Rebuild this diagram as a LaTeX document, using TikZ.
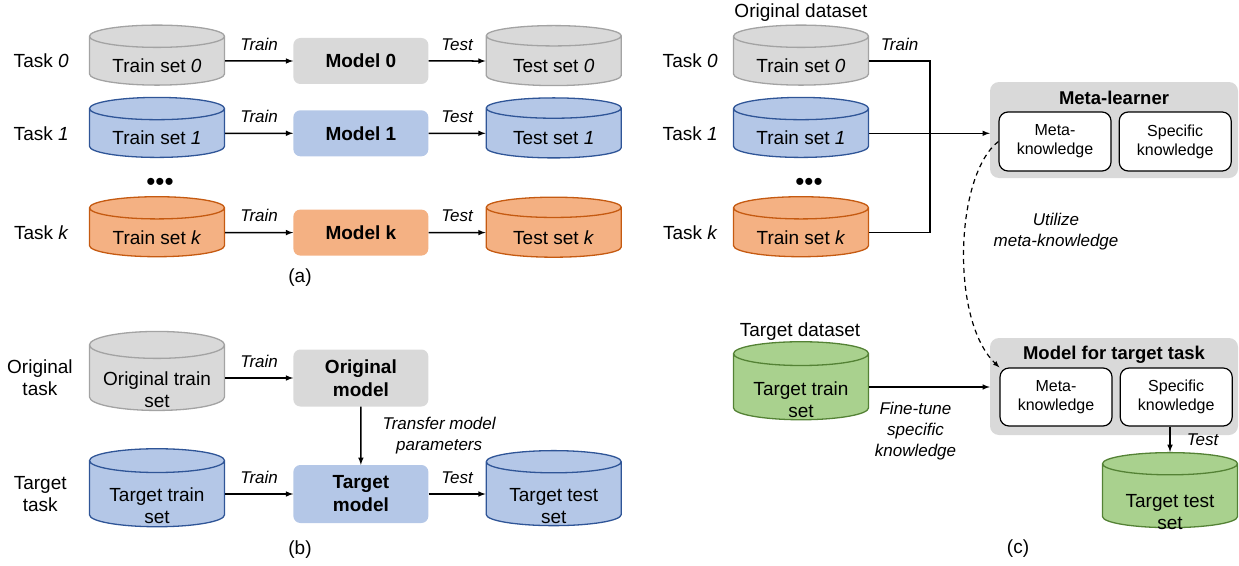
\documentclass[tikz,border=0pt]{standalone}
\usepackage{fontspec}
\setmainfont{Liberation Sans}
\usetikzlibrary{shapes.geometric, arrows, positioning}

\definecolor{graybg}{HTML}{D9D9D9}
\definecolor{grayline}{HTML}{A3A3A3}
\definecolor{bluebg}{HTML}{B4C7E7}
\definecolor{blueline}{HTML}{2F5597}
\definecolor{orangebg}{HTML}{F4B183}
\definecolor{orangeline}{HTML}{C55A11}
\definecolor{greenbg}{HTML}{A9D18E}
\definecolor{greenline}{HTML}{548235}

% two lines of text set lower in a cylinder
\newcommand{\dbtwolines}[3]{\raisebox{-#1}[0pt][0pt]{\begin{tabular}{@{}c@{}}#2\\#3\end{tabular}}}

\begin{document}
\begin{tikzpicture}[x=1pt, y=-1pt, node distance=68pt,
    txt/.style={font=\fontsize{19}{22}\selectfont, align=center, inner sep=0pt},
    lbl/.style={font=\fontsize{17}{21}\selectfont\itshape, align=center, inner sep=0pt},
    db/.style={txt, cylinder, shape border rotate=90, aspect=0.25, draw, line width=1.3pt, minimum width=135pt, minimum height=60pt, text height=23.5pt},
    dbtwo/.style={text height=0pt, text depth=0pt},
    dbgray/.style={db, fill=graybg, draw=grayline},
    dbblue/.style={db, fill=bluebg, draw=blueline},
    dborange/.style={db, fill=orangebg, draw=orangeline},
    dbgreen/.style={db, fill=greenbg, draw=greenline},
    model/.style={txt, font=\fontsize{19}{23}\selectfont\bfseries, rounded corners=7pt, minimum width=135pt, minimum height=46pt},
    grp/.style={fill=graybg, rounded corners=9pt, minimum width=248pt, minimum height=96pt},
    grptitle/.style={txt, font=\fontsize{18.5}{22}\selectfont\bfseries},
    know/.style={draw, fill=white, line width=1.2pt, rounded corners=9pt, minimum width=112pt, minimum height=59pt, align=center, inner sep=0pt, font=\fontsize{16}{19}\selectfont},
    dots/.style={font=\fontsize{26}{26}\selectfont, inner sep=0pt},
    arr/.style={-latex, line width=1.5pt}]
    \useasboundingbox (0,0) rectangle (1239,565);

    % (a) one model per task
    \node (ts0) [dbgray] at (157,61) {Train set \textit{0}};
    \node (m0) [model, fill=graybg, right=of ts0] {Model 0};
    \node (te0) [dbgray, right=57pt of m0] {Test set \textit{0}};
    \node (ts1) [dbblue, below=11pt of ts0] {Train set \textit{1}};
    \node (m1) [model, fill=bluebg, right=of ts1] {Model 1};
    \node (te1) [dbblue, right=57pt of m1] {Test set \textit{1}};
    \node (tsk) [dborange, below=38pt of ts1] {Train set \textit{k}};
    \node (mk) [model, fill=orangebg, right=of tsk] {Model k};
    \node (tek) [dborange, right=57pt of mk] {Test set \textit{k}};
    \node (la0) [txt, left=20pt of ts0] {Task \textit{0}};
    \node (la1) [txt, left=20pt of ts1] {Task \textit{1}};
    \node (lak) [txt, left=20pt of tsk] {Task \textit{k}};
    \node (dta) [dots] at (160,184) {•••};
    \node (capa) [txt] at (300,278) {(a)};

    \draw[arr] (ts0) -- node[lbl, above=10pt] {Train} (m0);
    \draw[arr] (m0) -- node[lbl, above=10pt] {Test} (te0);
    \draw[arr] (ts1) -- node[lbl, above=10pt] {Train} (m1);
    \draw[arr] (m1) -- node[lbl, above=10pt] {Test} (te1);
    \draw[arr] (tsk) -- node[lbl, above=10pt] {Train} (mk);
    \draw[arr] (mk) -- node[lbl, above=10pt] {Test} (tek);

    % (b) transfer learning
    \node (ots) [dbgray, dbtwo, minimum height=79pt] at (157,378) {\dbtwolines{18pt}{Original train}{set}};
    \node (om) [model, fill=graybg, minimum height=57pt, right=of ots] {Original\\model};
    \node (tts) [dbblue, dbtwo, minimum height=78pt] at (157,494) {\dbtwolines{18pt}{Target train}{set}};
    \node (tm) [model, fill=bluebg, minimum height=58pt, right=of tts] {Target\\model};
    \node (tte) [dbblue, dbtwo, minimum height=75pt, right=57pt of tm] {\dbtwolines{18pt}{Target test}{set}};
    \node (lot) [txt, left=16pt of ots] {Original\\task};
    \node (ltt) [txt, left=22pt of tts] {Target\\task};
    \node (capb) [txt] at (300,550) {(b)};

    \draw[arr] (ots) -- node[lbl, above=10pt] {Train} (om);
    \draw[arr] (om) -- node[lbl, right=21pt] {Transfer model\\parameters} (tm);
    \draw[arr] (tts) -- node[lbl, above=10pt] {Train} (tm);
    \draw[arr] (tm) -- node[lbl, above=10pt] {Test} (tte);

    % (c) meta-learning
    \node (od) [txt] at (801,13) {Original dataset};
    \node (cs0) [dbgray] at (801,61) {Train set \textit{0}};
    \node (cs1) [dbblue, below=11pt of cs0] {Train set \textit{1}};
    \node (csk) [dborange, below=38pt of cs1] {Train set \textit{k}};
    \node (lc0) [txt, left=15pt of cs0] {Task \textit{0}};
    \node (lc1) [txt, left=15pt of cs1] {Task \textit{1}};
    \node (lck) [txt, left=15pt of csk] {Task \textit{k}};
    \node (dtc) [dots] at (809,184) {•••};

    \node (ml) [grp] at (1114,130) {};
    \node (mlt) [grptitle, below=9pt of ml.north] {Meta-learner};
    \node (mk1) [know] at (1055,141.5) {Meta-\\knowledge};
    \node (sk1) [know, right=7pt of mk1] {Specific\\knowledge};

    \node (mt) [grp, minimum height=97pt] at (1114,386.5) {};
    \node (mtt) [grptitle, below=8pt of mt.north] {Model for target task};
    \node (mk2) [know, minimum height=58pt] at (1056,397) {Meta-\\knowledge};
    \node (sk2) [know, minimum height=58pt, right=7pt of mk2] {Specific\\knowledge};

    \node (tdl) [txt] at (800,332) {Target dataset};
    \node (ctts) [dbgreen, dbtwo, minimum height=78pt] at (801,387) {\dbtwolines{19pt}{Target train}{set}};
    \node (ctte) [dbgreen, dbtwo, minimum height=75pt] at (1170,496) {\dbtwolines{22pt}{Target test}{set}};
    \node (utl) [lbl] at (1056,232) {Utilize\\meta-knowledge};
    \node (capc) [txt] at (1018,549) {(c)};

    \coordinate (jn) at (930,0);
    \draw[line width=1.5pt] (cs0.east) -- node[lbl, above=10pt] {Train} (cs0.east -| jn) -- (jn |- csk.east) -- (csk.east);
    \draw[arr] (cs1.east) -- (cs1.east -| ml.west);
    \draw[arr, line width=1.2pt, dash pattern=on 5pt off 4pt] (mk1.west) .. controls (955,175) and (950,320) .. (mk2.north west);
    \draw[arr] (ctts.east) -- node[lbl, below=14pt, xshift=-14pt] {Fine-tune\\specific\\knowledge} (ctts.east -| mt.west);
    \draw[arr] (sk2.south -| ctte) -- node[lbl, right=16pt] {Test} (ctte);
\end{tikzpicture}
\end{document}
